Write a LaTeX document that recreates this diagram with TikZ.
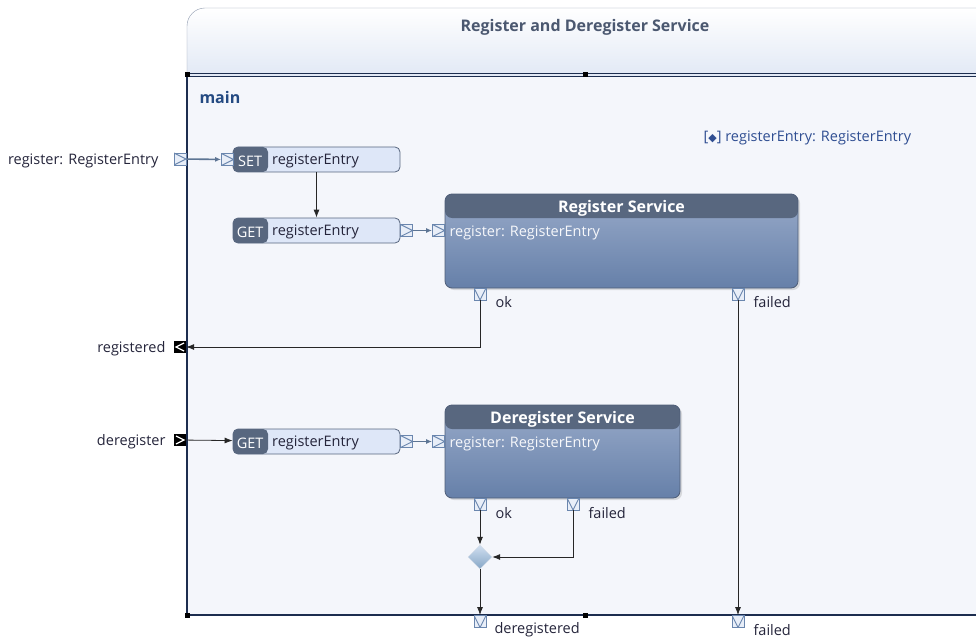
\documentclass[tikz,border=0pt]{standalone}
\usepackage{fontspec}
\setmainfont{Open Sans}
\newfontfamily\symfont{DejaVu Sans}
\usetikzlibrary{arrows.meta, positioning, calc, shapes.geometric, shadows}
\definecolor{framenavy}{HTML}{1C2D4F}
\definecolor{bodyfill}{HTML}{F4F6FB}
\definecolor{headbot}{HTML}{E2E9F5}
\definecolor{headline}{HTML}{8E9AAE}
\definecolor{titlegray}{HTML}{4B5870}
\definecolor{mainblue}{HTML}{244A82}
\definecolor{varblue}{HTML}{2F4E92}
\definecolor{nodedark}{HTML}{58677F}
\definecolor{nodelight}{HTML}{DEE7F8}
\definecolor{svctop}{HTML}{98AAC9}
\definecolor{svcbot}{HTML}{6680A9}
\definecolor{svcborder}{HTML}{4F5E78}
\definecolor{portblue}{HTML}{6A86AE}
\definecolor{portfill}{HTML}{E8EEF8}
\definecolor{flowgray}{HTML}{5D7594}
\definecolor{labeltext}{HTML}{24243A}
\definecolor{mergetop}{HTML}{D0DFF0}
\definecolor{mergebot}{HTML}{86A6C6}

\begin{document}
\begin{tikzpicture}[x=1pt, y=-1pt,
    every node/.style={font=\fontsize{14.5}{17}\selectfont, text=labeltext},
    boldtext/.style={font=\fontsize{16}{18}\selectfont\bfseries},
    entry/.style={rectangle, rounded corners=5pt, draw=nodedark, line width=0.8pt, fill=nodelight, minimum width=167pt, minimum height=25pt, inner sep=0pt,
        path picture={\fill[nodedark] (path picture bounding box.north west) rectangle ([xshift=35pt]path picture bounding box.south west);}},
    tagtext/.style={text=white},
    service/.style={rectangle, rounded corners=7pt, draw=svcborder, line width=0.8pt, top color=svctop, bottom color=svcbot, inner sep=0pt,
        drop shadow={opacity=0.25, shadow xshift=2pt, shadow yshift=-2pt},
        path picture={\fill[nodedark] (path picture bounding box.north west) rectangle ([yshift=-24pt]path picture bounding box.north east);}},
    svctitle/.style={boldtext, text=white},
    svcparam/.style={text=white!92!svctop, anchor=west},
    port/.style={rectangle, draw=portblue, fill=portfill, line width=0.9pt, minimum size=12pt, inner sep=0pt},
    inport/.style={port, path picture={\draw[portblue, line width=0.9pt] (path picture bounding box.north west) -- (path picture bounding box.east) -- (path picture bounding box.south west);}},
    outport/.style={port, path picture={\draw[portblue, line width=0.9pt] (path picture bounding box.north west) -- (path picture bounding box.south) -- (path picture bounding box.north east);}},
    blackport/.style={rectangle, fill=black, minimum size=12pt, inner sep=0pt},
    merge/.style={diamond, top color=mergetop, bottom color=mergebot, draw=white!70!portblue, minimum width=24pt, minimum height=24pt, inner sep=0pt},
    flow/.style={-{Latex[length=6pt,width=5pt]}, line width=1.6pt, draw=flowgray},
    ctrl/.style={-{Latex[length=8pt,width=6pt]}, line width=0.8pt, draw=black!85}
]
\useasboundingbox (0,0) rectangle (976,639);

% Frame
\shade[top color=white, bottom color=headbot, draw=headline] (187,75) [rounded corners=18pt] -- (187,8) -- (1000,8) [sharp corners] -- (1000,75) -- cycle;
\fill[bodyfill] (187,75) rectangle (1000,615);
\draw[framenavy, line width=1.5pt] (187,75) -- (187,615) -- (1000,615);
\draw[framenavy, line width=0.9pt, double=headbot, double distance=1.6pt] (187,75) -- (1000,75);
\foreach \hx/\hy in {187/75, 585/75, 187/615, 585/615}
    \fill[black] (\hx,\hy) +(-2.5,-2.5) rectangle +(2.5,2.5);
\node[boldtext, text=titlegray] (title) at (585,27) {Register and Deregister Service};
\node[boldtext, text=mainblue, anchor=west] (main) at (196,98) {main};
\node[text=varblue, anchor=west] (var) at (700,137.5) {[{\symfont\fontsize{11}{12}\selectfont ◆}] registerEntry: RegisterEntry};

% Boundary ports
\node[inport] (regport) at (180,159) {};
\node[anchor=east] at (162,161) {register: RegisterEntry};
\node[blackport, path picture={\draw[white, line width=1.2pt] ([xshift=-2pt,yshift=-2pt]path picture bounding box.north east) -- ([xshift=2pt]path picture bounding box.west) -- ([xshift=-2pt,yshift=2pt]path picture bounding box.south east);}] (registeredport) at (180,347) {};
\node[anchor=east] at (169,349) {registered};
\node[blackport, path picture={\draw[white, line width=1.2pt] ([xshift=2pt,yshift=-2pt]path picture bounding box.north west) -- ([xshift=-2pt]path picture bounding box.east) -- ([xshift=2pt,yshift=2pt]path picture bounding box.south west);}] (deregport) at (180,440) {};
\node[anchor=east] at (169,442) {deregister};

% Register branch
\node[entry] (setreg) at (316.5,159.5) {};
\node[tagtext] at ([xshift=17.5pt,yshift=-1.5pt]setreg.west) {SET};
\node[anchor=west] at ([xshift=36pt,yshift=-1.5pt]setreg.west) {registerEntry};
\node[inport] (setin) at (227.5,159.5) {};
\node[entry] (getreg) at (316.5,230.5) {};
\node[tagtext] at ([xshift=17.5pt,yshift=-1.5pt]getreg.west) {GET};
\node[anchor=west] at ([xshift=36pt,yshift=-1.5pt]getreg.west) {registerEntry};
\node[inport] (getregout) at (406.5,230.5) {};

\node[service, minimum width=353pt, minimum height=94pt] (regsvc) at (621.5,241) {};
\node[svctitle] at ([yshift=-15pt]regsvc.north) {Register Service};
\node[svcparam] at (446,232.5) {register: RegisterEntry};
\node[inport] (regsvcin) at (438.5,230.5) {};
\node[outport] (regok) at (480,294) {};
\node[anchor=west] at (492,302) {ok};
\node[outport] (regfailed) at (738,294) {};
\node[anchor=west] at (750,302) {failed};

% Deregister branch
\node[entry] (getdereg) at (316.5,441.5) {};
\node[tagtext] at ([xshift=17.5pt,yshift=-1.5pt]getdereg.west) {GET};
\node[anchor=west] at ([xshift=36pt,yshift=-1.5pt]getdereg.west) {registerEntry};
\node[inport] (getderegout) at (406.5,441.5) {};

\node[service, minimum width=235pt, minimum height=93pt] (deregsvc) at (562.5,451.5) {};
\node[svctitle] at ([yshift=-15pt]deregsvc.north) {Deregister Service};
\node[svcparam] at (446,443.5) {register: RegisterEntry};
\node[inport] (deregsvcin) at (438.5,441.5) {};
\node[outport] (deregok) at (480,504) {};
\node[anchor=west] at (492,513.5) {ok};
\node[outport] (deregfailed) at (573,504) {};
\node[anchor=west] at (585,513.5) {failed};

\node[merge] (join) at (480,557) {};

% Exit ports
\node[outport] (deregexit) at (480,621.5) {};
\node[anchor=west] at (491,630) {deregistered};
\node[outport] (failedexit) at (738,621.5) {};
\node[anchor=west] at (750,630) {failed};

% Connectors
\draw[flow] (regport) -- (setin);
\draw[ctrl] (setreg) -- (getreg);
\draw[flow] (getregout) -- (regsvcin);
\draw[ctrl] (regok.south) |- (registeredport.east);
\draw[ctrl] (regfailed.south) -- (failedexit.north);
\draw[ctrl] (deregport) -- (getdereg);
\draw[flow] (getderegout) -- (deregsvcin);
\draw[ctrl] (deregok.south) -- (join.north);
\draw[ctrl] (deregfailed.south) |- (join.east);
\draw[ctrl] (join.south) -- (deregexit.north);

\end{tikzpicture}
\end{document}
